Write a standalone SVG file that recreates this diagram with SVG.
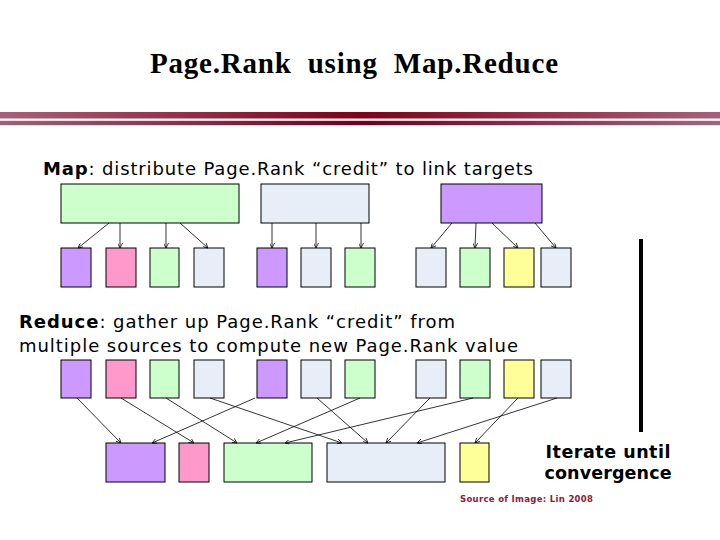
<svg xmlns="http://www.w3.org/2000/svg" width="720" height="540" viewBox="0 0 720 540">
<style>
.box{stroke:#000;stroke-width:1}
.pu{fill:#cc99ff}.pk{fill:#ff99cc}.gr{fill:#ccffcc}.lb{fill:#e8eef8}.ye{fill:#ffff99}
.ln{stroke:#000;stroke-width:0.8;fill:none;marker-end:url(#ah)}
.t{font-family:"DejaVu Sans",Verdana,sans-serif;fill:#000}
</style>
<defs>
<linearGradient id="g1" x1="0" y1="0" x2="1" y2="0">
<stop offset="0" stop-color="#a8607a"/><stop offset="0.5" stop-color="#80001a"/><stop offset="1" stop-color="#a8607a"/>
</linearGradient>
<linearGradient id="g2" x1="0" y1="0" x2="1" y2="0">
<stop offset="0" stop-color="#9a6478"/><stop offset="0.5" stop-color="#70001a"/><stop offset="1" stop-color="#9a6a80"/>
</linearGradient>
<marker id="ah" viewBox="0 0 10 10" refX="10" refY="5" markerWidth="5" markerHeight="5" markerUnits="userSpaceOnUse" orient="auto">
<path d="M0,0 L10,5 L0,10" fill="none" stroke="#000" stroke-width="1.5"/>
</marker>
</defs>
<rect width="720" height="540" fill="#fff"/>
<text x="150" y="73" style="white-space:pre" font-family="'Liberation Serif','Times New Roman',serif" font-weight="bold" font-size="29" textLength="408" lengthAdjust="spacing">Page.Rank  using  Map.Reduce</text>
<rect x="0" y="112" width="720" height="6.5" fill="url(#g1)"/>
<rect x="0" y="120.8" width="720" height="4.4" fill="url(#g2)"/>

<text class="t" x="43" y="175" font-size="18" textLength="490" lengthAdjust="spacing"><tspan font-weight="bold">Map</tspan>: distribute Page.Rank “credit” to link targets</text>
<text class="t" x="19" y="328" font-size="18" textLength="436" lengthAdjust="spacing"><tspan font-weight="bold">Reduce</tspan>: gather up Page.Rank “credit” from</text>
<text class="t" x="19" y="352" font-size="18" textLength="499" lengthAdjust="spacing">multiple sources to compute new Page.Rank value</text>
<text class="t" x="608" y="458" font-size="17.5" font-weight="bold" text-anchor="middle" textLength="125" lengthAdjust="spacing">Iterate until</text>
<text class="t" x="608" y="479" font-size="17.5" font-weight="bold" text-anchor="middle" textLength="127" lengthAdjust="spacing">convergence</text>
<text x="460" y="502" font-family="'DejaVu Sans',Verdana,sans-serif" font-size="8.5" font-weight="bold" fill="#8b1a3a" textLength="133" lengthAdjust="spacing">Source of Image: Lin 2008</text>

<rect x="639" y="239" width="4" height="193" fill="#000"/>

<g id="map-sources">
<rect id="m-src1" class="box gr" x="61" y="184" width="178" height="39"/>
<rect id="m-src2" class="box lb" x="261" y="184" width="108" height="39"/>
<rect id="m-src3" class="box pu" x="441" y="184" width="101" height="39"/>
</g>
<g id="map-outputs">
<rect class="box pu" x="61" y="248" width="30" height="39"/>
<rect class="box pk" x="106" y="248" width="30" height="39"/>
<rect class="box gr" x="150" y="248" width="29" height="39"/>
<rect class="box lb" x="194" y="248" width="30" height="39"/>
<rect class="box pu" x="257" y="248" width="30" height="39"/>
<rect class="box lb" x="301" y="248" width="30" height="39"/>
<rect class="box gr" x="345" y="248" width="30" height="39"/>
<rect class="box lb" x="416" y="248" width="30" height="39"/>
<rect class="box gr" x="460" y="248" width="30" height="39"/>
<rect class="box ye" x="504" y="248" width="30" height="39"/>
<rect class="box lb" x="541" y="248" width="30" height="39"/>
</g>
<g id="reduce-inputs">
<rect class="box pu" x="61" y="360" width="30" height="38"/>
<rect class="box pk" x="106" y="360" width="30" height="38"/>
<rect class="box gr" x="150" y="360" width="29" height="38"/>
<rect class="box lb" x="194" y="360" width="30" height="38"/>
<rect class="box pu" x="257" y="360" width="30" height="38"/>
<rect class="box lb" x="301" y="360" width="30" height="38"/>
<rect class="box gr" x="345" y="360" width="30" height="38"/>
<rect class="box lb" x="416" y="360" width="30" height="38"/>
<rect class="box gr" x="460" y="360" width="30" height="38"/>
<rect class="box ye" x="504" y="360" width="30" height="38"/>
<rect class="box lb" x="541" y="360" width="30" height="38"/>
</g>
<g id="reduce-outputs">
<rect class="box pu" x="106" y="443" width="59" height="39"/>
<rect class="box pk" x="179" y="443" width="30" height="39"/>
<rect class="box gr" x="224" y="443" width="88" height="39"/>
<rect class="box lb" x="327" y="443" width="118" height="39"/>
<rect class="box ye" x="460" y="443" width="29" height="39"/>
</g>

<g id="connectors">
<line class="ln" x1="109" y1="223" x2="78" y2="248"/>
<line class="ln" x1="120" y1="223" x2="120" y2="248"/>
<line class="ln" x1="166" y1="223" x2="166" y2="248"/>
<line class="ln" x1="180" y1="223" x2="208" y2="248"/>
<line class="ln" x1="272" y1="223" x2="272" y2="248"/>
<line class="ln" x1="316" y1="223" x2="316" y2="248"/>
<line class="ln" x1="361" y1="223" x2="361" y2="248"/>
<line class="ln" x1="452" y1="223" x2="431" y2="248"/>
<line class="ln" x1="476" y1="223" x2="475" y2="248"/>
<line class="ln" x1="492" y1="223" x2="518" y2="248"/>
<line class="ln" x1="535" y1="223" x2="556" y2="248"/>

<line class="ln" x1="77" y1="398" x2="121" y2="443"/>
<line class="ln" x1="121" y1="398" x2="194" y2="443"/>
<line class="ln" x1="166" y1="398" x2="237" y2="443"/>
<line class="ln" x1="210" y1="398" x2="342" y2="443"/>
<line class="ln" x1="255" y1="398" x2="152" y2="443"/>
<line class="ln" x1="317" y1="398" x2="368" y2="443"/>
<line class="ln" x1="360" y1="398" x2="256" y2="443"/>
<line class="ln" x1="430" y1="398" x2="386" y2="443"/>
<line class="ln" x1="473" y1="398" x2="285" y2="443"/>
<line class="ln" x1="518" y1="398" x2="475" y2="443"/>
<line class="ln" x1="557" y1="398" x2="417" y2="443"/>
</g>
</svg>
